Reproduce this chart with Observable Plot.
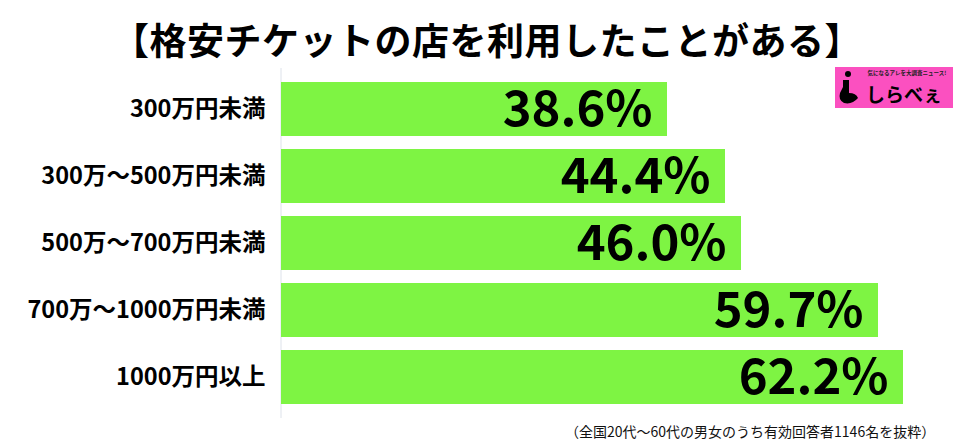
<!DOCTYPE html>
<html>
<head>
<meta charset="utf-8">
<script src="https://cdn.jsdelivr.net/npm/d3@7"></script>
<script src="https://cdn.jsdelivr.net/npm/@observablehq/plot@0.6"></script>
<style>
  html, body { margin: 0; padding: 0; background: #fff; }
  body { width: 978px; height: 442px; position: relative; overflow: hidden; font-family: "Noto Sans CJK JP", "Noto Sans", sans-serif; }
  #title { height: 68px; line-height: 68px; font-size: 37px; font-weight: bold; text-align: center; padding-right: 4px; color: #000; letter-spacing: 0.5px; white-space: nowrap; }
  #title span { position: relative; top: 5px; }
  #chart svg { display: block; }
  #caption { position: absolute; left: 565px; top: 421px; font-size: 14px; color: #111; white-space: nowrap; line-height: 20px; }
  #logo { position: absolute; left: 835px; top: 67px; }
</style>
</head>
<body>
<div id="title"><span>【格安チケットの店を利用したことがある】</span></div>
<div id="chart"></div>
<div id="caption">（全国20代～60代の男女のうち有効回答者1146名を抜粋）</div>
<svg id="logo" width="118" height="41" viewBox="0 0 118 41">
  <rect x="0" y="0" width="118" height="41" fill="#fb50c0"/>
  <circle cx="13" cy="7" r="3" fill="#000"/>
  <path d="M8 13 L14 13 L14 26 Q21 26 23 31 Q17 38 9 36 Q3 33 5 26 Q7 22 8 20 Z" fill="#000"/>
  <text x="72" y="8" font-size="5.5" text-anchor="middle" font-weight="bold" fill="#222">気になるアレを大調査ニュース!</text>
  <text x="31" y="35" font-size="19" font-weight="bold" fill="#000">しらべぇ</text>
</svg>
<script>
const categories = ["300万円未満", "300万～500万円未満", "500万～700万円未満", "700万～1000万円未満", "1000万円以上"];
const values = [38.6, 44.4, 46.0, 59.7, 62.2];
const valueLabels = ["38.6%", "44.4%", "46.0%", "59.7%", "62.2%"];

const data = categories.map((c, i) => ({label: c, value: values[i], text: valueLabels[i]}));

const chart = Plot.plot({
  width: 978,
  height: 350,
  marginLeft: 281,
  marginRight: 0,
  marginTop: 0,
  marginBottom: 0,
  style: { fontFamily: '"Noto Sans CJK JP", "Noto Sans", sans-serif', background: "#fff" },
  x: { domain: [0, 69.7], axis: null },
  y: { domain: categories, padding: 0.2, axis: null },
  marks: [
    Plot.ruleX([0], { stroke: "#dde2ea", strokeWidth: 1, dx: -0.5 }),
    Plot.barX(data, { x: "value", y: "label", fill: "#7ef443" }),
    Plot.axisY({ tickSize: 0, tickPadding: 16, fontSize: 23.5, fontWeight: "bold", fill: "#000", label: null }),
    Plot.text(data, { x: "value", y: "label", text: "text", textAnchor: "end", dx: -15, dy: 1, fontSize: 49, fontWeight: "bold", fill: "#000" })
  ]
});
document.getElementById("chart").appendChild(chart);
</script>
</body>
</html>
